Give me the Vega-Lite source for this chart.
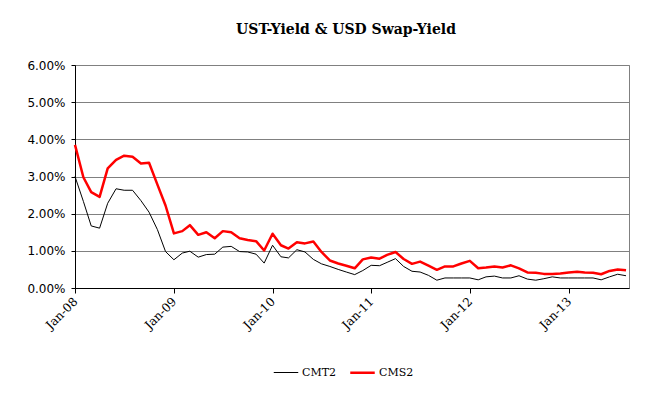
{
  "$schema": "https://vega.github.io/schema/vega-lite/v6.json",
  "autosize": {"type": "none"},
  "padding": {"left": 75, "top": 65, "right": 33, "bottom": 108},
  "width": 554,
  "height": 223,
  "background": "white",
  "title": {"text": "UST-Yield & USD Swap-Yield", "font": "DejaVu Serif", "fontWeight": "bold", "fontSize": 14, "color": "black", "offset": 22, "dx": -6},
  "config": {"view": {"stroke": "#808080", "strokeWidth": 1}},
  "data": {"values": [
    {"date":"2008-01-01","series":"CMT2","value":3.00},{"date":"2008-02-01","series":"CMT2","value":2.33},{"date":"2008-03-01","series":"CMT2","value":1.67},{"date":"2008-04-01","series":"CMT2","value":1.61},{"date":"2008-05-01","series":"CMT2","value":2.28},{"date":"2008-06-01","series":"CMT2","value":2.67},{"date":"2008-07-01","series":"CMT2","value":2.63},{"date":"2008-08-01","series":"CMT2","value":2.63},{"date":"2008-09-01","series":"CMT2","value":2.35},{"date":"2008-10-01","series":"CMT2","value":2.04},{"date":"2008-11-01","series":"CMT2","value":1.57},{"date":"2008-12-01","series":"CMT2","value":0.98},
    {"date":"2009-01-01","series":"CMT2","value":0.76},{"date":"2009-02-01","series":"CMT2","value":0.94},{"date":"2009-03-01","series":"CMT2","value":0.99},{"date":"2009-04-01","series":"CMT2","value":0.83},{"date":"2009-05-01","series":"CMT2","value":0.90},{"date":"2009-06-01","series":"CMT2","value":0.91},{"date":"2009-07-01","series":"CMT2","value":1.10},{"date":"2009-08-01","series":"CMT2","value":1.12},{"date":"2009-09-01","series":"CMT2","value":0.98},{"date":"2009-10-01","series":"CMT2","value":0.97},{"date":"2009-11-01","series":"CMT2","value":0.91},{"date":"2009-12-01","series":"CMT2","value":0.67},
    {"date":"2010-01-01","series":"CMT2","value":1.15},{"date":"2010-02-01","series":"CMT2","value":0.84},{"date":"2010-03-01","series":"CMT2","value":0.81},{"date":"2010-04-01","series":"CMT2","value":1.03},{"date":"2010-05-01","series":"CMT2","value":0.97},{"date":"2010-06-01","series":"CMT2","value":0.77},{"date":"2010-07-01","series":"CMT2","value":0.65},{"date":"2010-08-01","series":"CMT2","value":0.58},{"date":"2010-09-01","series":"CMT2","value":0.50},{"date":"2010-10-01","series":"CMT2","value":0.43},{"date":"2010-11-01","series":"CMT2","value":0.36},{"date":"2010-12-01","series":"CMT2","value":0.47},
    {"date":"2011-01-01","series":"CMT2","value":0.61},{"date":"2011-02-01","series":"CMT2","value":0.60},{"date":"2011-03-01","series":"CMT2","value":0.69},{"date":"2011-04-01","series":"CMT2","value":0.79},{"date":"2011-05-01","series":"CMT2","value":0.58},{"date":"2011-06-01","series":"CMT2","value":0.45},{"date":"2011-07-01","series":"CMT2","value":0.43},{"date":"2011-08-01","series":"CMT2","value":0.34},{"date":"2011-09-01","series":"CMT2","value":0.21},{"date":"2011-10-01","series":"CMT2","value":0.27},{"date":"2011-11-01","series":"CMT2","value":0.27},{"date":"2011-12-01","series":"CMT2","value":0.27},
    {"date":"2012-01-01","series":"CMT2","value":0.27},{"date":"2012-02-01","series":"CMT2","value":0.22},{"date":"2012-03-01","series":"CMT2","value":0.30},{"date":"2012-04-01","series":"CMT2","value":0.32},{"date":"2012-05-01","series":"CMT2","value":0.27},{"date":"2012-06-01","series":"CMT2","value":0.27},{"date":"2012-07-01","series":"CMT2","value":0.33},{"date":"2012-08-01","series":"CMT2","value":0.24},{"date":"2012-09-01","series":"CMT2","value":0.21},{"date":"2012-10-01","series":"CMT2","value":0.25},{"date":"2012-11-01","series":"CMT2","value":0.30},{"date":"2012-12-01","series":"CMT2","value":0.27},
    {"date":"2013-01-01","series":"CMT2","value":0.27},{"date":"2013-02-01","series":"CMT2","value":0.27},{"date":"2013-03-01","series":"CMT2","value":0.27},{"date":"2013-04-01","series":"CMT2","value":0.27},{"date":"2013-05-01","series":"CMT2","value":0.22},{"date":"2013-06-01","series":"CMT2","value":0.30},{"date":"2013-07-01","series":"CMT2","value":0.37},{"date":"2013-08-01","series":"CMT2","value":0.33},
    {"date":"2008-01-01","series":"CMS2","value":3.85},{"date":"2008-02-01","series":"CMS2","value":2.98},{"date":"2008-03-01","series":"CMS2","value":2.58},{"date":"2008-04-01","series":"CMS2","value":2.45},{"date":"2008-05-01","series":"CMS2","value":3.22},{"date":"2008-06-01","series":"CMS2","value":3.45},{"date":"2008-07-01","series":"CMS2","value":3.56},{"date":"2008-08-01","series":"CMS2","value":3.53},{"date":"2008-09-01","series":"CMS2","value":3.35},{"date":"2008-10-01","series":"CMS2","value":3.37},{"date":"2008-11-01","series":"CMS2","value":2.78},{"date":"2008-12-01","series":"CMS2","value":2.22},
    {"date":"2009-01-01","series":"CMS2","value":1.47},{"date":"2009-02-01","series":"CMS2","value":1.53},{"date":"2009-03-01","series":"CMS2","value":1.69},{"date":"2009-04-01","series":"CMS2","value":1.43},{"date":"2009-05-01","series":"CMS2","value":1.50},{"date":"2009-06-01","series":"CMS2","value":1.34},{"date":"2009-07-01","series":"CMS2","value":1.53},{"date":"2009-08-01","series":"CMS2","value":1.50},{"date":"2009-09-01","series":"CMS2","value":1.34},{"date":"2009-10-01","series":"CMS2","value":1.29},{"date":"2009-11-01","series":"CMS2","value":1.26},{"date":"2009-12-01","series":"CMS2","value":1.01},
    {"date":"2010-01-01","series":"CMS2","value":1.46},{"date":"2010-02-01","series":"CMS2","value":1.15},{"date":"2010-03-01","series":"CMS2","value":1.06},{"date":"2010-04-01","series":"CMS2","value":1.23},{"date":"2010-05-01","series":"CMS2","value":1.20},{"date":"2010-06-01","series":"CMS2","value":1.25},{"date":"2010-07-01","series":"CMS2","value":0.97},{"date":"2010-08-01","series":"CMS2","value":0.74},{"date":"2010-09-01","series":"CMS2","value":0.66},{"date":"2010-10-01","series":"CMS2","value":0.60},{"date":"2010-11-01","series":"CMS2","value":0.53},{"date":"2010-12-01","series":"CMS2","value":0.77},
    {"date":"2011-01-01","series":"CMS2","value":0.82},{"date":"2011-02-01","series":"CMS2","value":0.79},{"date":"2011-03-01","series":"CMS2","value":0.89},{"date":"2011-04-01","series":"CMS2","value":0.97},{"date":"2011-05-01","series":"CMS2","value":0.78},{"date":"2011-06-01","series":"CMS2","value":0.65},{"date":"2011-07-01","series":"CMS2","value":0.71},{"date":"2011-08-01","series":"CMS2","value":0.60},{"date":"2011-09-01","series":"CMS2","value":0.49},{"date":"2011-10-01","series":"CMS2","value":0.58},{"date":"2011-11-01","series":"CMS2","value":0.58},{"date":"2011-12-01","series":"CMS2","value":0.66},
    {"date":"2012-01-01","series":"CMS2","value":0.73},{"date":"2012-02-01","series":"CMS2","value":0.53},{"date":"2012-03-01","series":"CMS2","value":0.55},{"date":"2012-04-01","series":"CMS2","value":0.58},{"date":"2012-05-01","series":"CMS2","value":0.55},{"date":"2012-06-01","series":"CMS2","value":0.61},{"date":"2012-07-01","series":"CMS2","value":0.53},{"date":"2012-08-01","series":"CMS2","value":0.42},{"date":"2012-09-01","series":"CMS2","value":0.41},{"date":"2012-10-01","series":"CMS2","value":0.38},{"date":"2012-11-01","series":"CMS2","value":0.38},{"date":"2012-12-01","series":"CMS2","value":0.39},
    {"date":"2013-01-01","series":"CMS2","value":0.42},{"date":"2013-02-01","series":"CMS2","value":0.44},{"date":"2013-03-01","series":"CMS2","value":0.42},{"date":"2013-04-01","series":"CMS2","value":0.41},{"date":"2013-05-01","series":"CMS2","value":0.37},{"date":"2013-06-01","series":"CMS2","value":0.46},{"date":"2013-07-01","series":"CMS2","value":0.50},{"date":"2013-08-01","series":"CMS2","value":0.48}
  ]},
  "mark": {"type": "line", "strokeJoin": "round"},
  "encoding": {
    "x": {
      "field": "date", "type": "temporal",
      "scale": {"type": "utc", "domain": [{"year": 2008, "month": 1, "date": 1, "utc": true}, {"year": 2013, "month": 8, "date": 12, "utc": true}], "nice": false},
      "axis": {
        "title": null, "grid": false, "format": "%b-%y",
        "values": [{"year": 2008, "month": 1, "date": 1, "utc": true}, {"year": 2009, "month": 1, "date": 1, "utc": true}, {"year": 2010, "month": 1, "date": 1, "utc": true}, {"year": 2011, "month": 1, "date": 1, "utc": true}, {"year": 2012, "month": 1, "date": 1, "utc": true}, {"year": 2013, "month": 1, "date": 1, "utc": true}],
        "labelAngle": -45, "labelAlign": "right", "labelBaseline": "middle",
        "labelFont": "DejaVu Serif", "labelFontSize": 12, "labelColor": "black",
        "domainColor": "black", "tickColor": "black", "tickSize": 5, "labelPadding": 6, "labelFlush": false
      }
    },
    "y": {
      "field": "value", "type": "quantitative",
      "scale": {"domain": [0, 6], "nice": false},
      "axis": {
        "title": null, "values": [0, 1, 2, 3, 4, 5, 6],
        "labelExpr": "format(datum.value, '.2f') + '%'",
        "labelFont": "DejaVu Sans", "labelFontSize": 12, "labelColor": "black",
        "domainColor": "black", "tickColor": "black", "tickSize": 4, "labelPadding": 6,
        "grid": true, "gridColor": "#808080", "gridOpacity": 1
      }
    },
    "color": {
      "field": "series", "type": "nominal",
      "scale": {"domain": ["CMT2", "CMS2"], "range": ["#000000", "#ff0000"]},
      "legend": {
        "title": null, "orient": "none", "direction": "horizontal",
        "legendX": 198, "legendY": 294,
        "symbolType": "stroke", "symbolSize": 600, "symbolStrokeWidth": 2,
        "labelFont": "DejaVu Serif", "labelFontSize": 11, "labelColor": "black",
        "labelOffset": 3, "columnPadding": 8
      }
    },
    "strokeWidth": {
      "field": "series", "type": "nominal",
      "scale": {"domain": ["CMT2", "CMS2"], "range": [1, 2.5]},
      "legend": null
    }
  }
}
